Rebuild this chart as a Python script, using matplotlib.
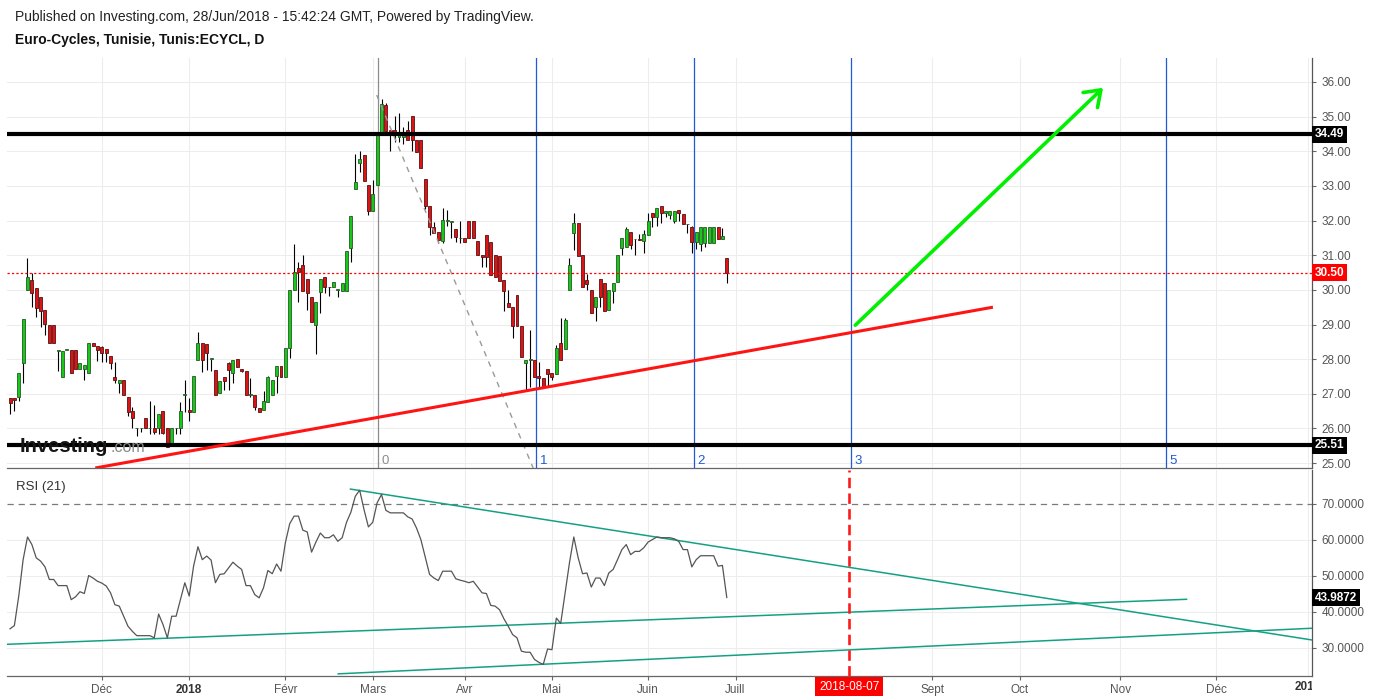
import numpy as np
import pandas as pd
import matplotlib
matplotlib.use("Agg")
import matplotlib.pyplot as plt
from matplotlib.transforms import Bbox, TransformedBbox, blended_transform_factory

plt.rcParams['font.family'] = ['Liberation Sans', 'DejaVu Sans']
plt.rcParams['lines.scale_dashes'] = False

# ------------------------------------------------------------------ data
opens = [26.87, 26.87, 26.90, 27.90, 30.01, 30.28, 30.04, 29.78, 29.42, 29.00,
         28.98, 28.24, 27.49, 28.26, 28.26, 28.26, 27.71, 27.71, 27.59, 28.46,
         28.38, 28.36, 28.28, 28.09, 27.49, 27.30, 27.40, 26.90, 26.50, 26.00,
         26.00, 26.31, 26.00, 26.00, 26.00, 26.50, 26.00, 25.55, 26.00, 26.00,
         26.98, 26.52, 26.48, 27.97, 28.47, 28.43, 28.00, 27.69, 27.01, 27.49,
         27.90, 27.59, 28.00, 27.71, 27.66, 26.98, 26.98, 26.58, 26.53, 26.77,
         26.98, 27.51, 27.80, 27.49, 28.31, 30.00, 30.62, 30.72, 30.30, 29.78,
         28.98, 29.95, 30.36, 30.09, 30.07, 30.00, 29.98, 29.98, 31.20, 32.90,
         33.67, 33.88, 33.02, 32.28, 33.02, 34.52, 35.33, 34.61, 34.61, 34.40,
         34.40, 34.61, 35.02, 34.33, 34.33, 33.19, 32.42, 31.82, 31.66, 31.42,
         32.00, 31.97, 31.75, 31.49, 31.49, 31.99, 31.99, 31.41, 31.01, 31.58,
         31.38, 31.00, 30.98, 30.28, 29.61, 29.51, 29.85, 28.96, 27.90, 27.99,
         27.99, 27.51, 27.45, 27.71, 27.59, 27.57, 28.48, 28.28, 30.00, 31.63,
         31.92, 31.01, 30.28, 30.00, 29.50, 30.30, 30.19, 29.42, 29.98, 30.24,
         31.20, 31.23, 31.68, 31.46, 31.46, 31.42, 31.58, 32.21, 32.09, 32.42,
         32.23, 32.15, 32.00, 32.30, 32.19, 31.89, 31.81, 31.39, 31.32, 31.34,
         31.36, 31.36, 31.81, 31.46, 30.91]
highs = [26.87, 26.87, 27.59, 29.15, 30.91, 30.50, 30.04, 29.78, 29.42, 29.00,
         28.98, 28.24, 28.24, 28.26, 28.26, 28.26, 27.90, 27.83, 28.47, 28.46,
         28.38, 28.38, 28.28, 28.09, 27.93, 27.40, 27.40, 26.90, 26.61, 26.00,
         26.00, 26.31, 26.80, 26.68, 26.43, 26.50, 26.00, 26.00, 26.00, 26.77,
         27.40, 26.87, 27.51, 28.77, 28.47, 28.43, 28.00, 27.69, 27.38, 27.49,
         27.93, 27.97, 28.00, 27.71, 27.66, 27.47, 26.98, 26.58, 27.09, 27.51,
         27.40, 27.80, 27.80, 28.31, 30.00, 31.32, 30.81, 31.01, 30.30, 29.78,
         29.66, 30.30, 30.36, 30.09, 30.24, 30.00, 30.19, 31.12, 32.13, 33.92,
         34.01, 33.88, 33.02, 33.17, 34.49, 35.50, 35.40, 34.61, 35.02, 35.10,
         34.69, 34.88, 35.02, 34.33, 34.33, 33.19, 32.42, 31.95, 31.66, 32.36,
         32.30, 31.97, 31.75, 31.99, 31.49, 31.99, 31.99, 31.41, 31.01, 31.58,
         31.38, 31.00, 30.98, 30.28, 30.01, 29.51, 29.85, 28.96, 27.99, 28.84,
         27.99, 27.91, 27.45, 27.71, 27.59, 28.41, 29.18, 29.18, 30.91, 32.23,
         31.92, 31.01, 30.46, 30.00, 29.78, 30.30, 30.19, 30.00, 30.19, 31.01,
         31.49, 31.82, 31.68, 31.46, 31.60, 31.73, 32.21, 32.21, 32.35, 32.42,
         32.28, 32.28, 32.28, 32.30, 32.19, 31.89, 31.84, 31.68, 31.81, 31.81,
         31.81, 31.81, 31.81, 31.78, 30.91]
lows = [26.43, 26.51, 26.80, 27.32, 30.01, 29.51, 29.23, 28.92, 28.70, 28.48,
        28.48, 27.67, 27.49, 28.26, 27.59, 27.71, 27.71, 27.40, 27.59, 28.38,
        27.95, 27.93, 27.93, 27.73, 27.32, 27.03, 26.98, 26.37, 26.02, 25.78,
        25.91, 26.00, 25.83, 25.83, 25.83, 25.83, 25.47, 25.55, 25.83, 25.83,
        26.48, 26.22, 26.48, 27.97, 27.64, 27.69, 27.66, 26.98, 27.01, 27.11,
        27.11, 27.32, 27.78, 27.64, 26.98, 26.92, 26.53, 26.48, 26.53, 26.77,
        26.98, 27.01, 27.49, 27.49, 28.04, 30.00, 29.66, 29.98, 29.42, 29.08,
        28.15, 29.34, 29.90, 29.82, 30.07, 29.78, 29.98, 29.98, 30.81, 32.90,
        33.41, 33.15, 32.16, 32.28, 33.02, 34.52, 34.59, 34.02, 34.28, 34.28,
        34.21, 34.31, 34.02, 33.99, 33.51, 32.32, 31.57, 31.63, 31.36, 31.34,
        31.84, 31.51, 31.39, 31.36, 31.39, 31.49, 31.49, 31.00, 30.67, 30.67,
        30.42, 30.38, 30.26, 29.40, 29.50, 28.62, 28.96, 28.07, 27.09, 27.20,
        27.49, 27.20, 27.19, 27.22, 27.40, 27.57, 27.99, 28.28, 30.00, 31.15,
        30.99, 30.07, 30.00, 29.32, 29.11, 29.51, 29.40, 29.42, 29.63, 30.24,
        31.01, 31.23, 31.17, 31.01, 31.44, 31.07, 31.58, 31.82, 31.84, 31.94,
        32.11, 32.04, 31.92, 32.00, 31.89, 31.63, 31.07, 31.17, 31.13, 31.25,
        31.36, 31.36, 31.46, 31.46, 30.21]
closes = [26.74, 26.81, 27.59, 29.15, 30.36, 29.90, 29.49, 29.40, 29.01, 28.48,
          28.48, 28.24, 28.24, 28.26, 27.59, 27.71, 27.90, 27.83, 28.47, 28.38,
          28.26, 28.17, 28.19, 27.90, 27.40, 27.40, 26.98, 26.48, 26.29, 26.00,
          26.00, 26.00, 26.00, 25.91, 26.43, 25.86, 25.47, 26.00, 26.00, 26.50,
          26.98, 26.48, 27.51, 28.48, 27.97, 28.17, 28.00, 26.98, 27.38, 27.38,
          27.69, 27.97, 27.78, 27.66, 26.98, 26.98, 26.61, 26.48, 26.79, 27.48,
          27.40, 27.80, 27.49, 28.31, 30.00, 30.51, 30.51, 29.98, 29.92, 29.08,
          29.66, 30.30, 30.09, 30.07, 30.24, 30.00, 30.19, 31.12, 32.13, 33.10,
          33.78, 33.15, 32.28, 32.77, 34.49, 35.36, 34.59, 34.52, 34.52, 34.52,
          34.52, 34.31, 34.31, 33.99, 33.51, 32.43, 31.81, 31.63, 31.44, 32.02,
          32.00, 31.97, 31.53, 31.49, 31.39, 31.49, 31.49, 31.00, 30.94, 30.94,
          30.42, 30.38, 30.26, 29.98, 29.50, 28.96, 28.96, 28.07, 27.99, 27.99,
          27.49, 27.45, 27.19, 27.57, 27.49, 28.33, 27.99, 29.13, 30.72, 31.92,
          30.99, 30.07, 30.17, 29.32, 29.78, 29.78, 29.40, 30.00, 30.19, 31.01,
          31.49, 31.75, 31.29, 31.46, 31.44, 31.61, 32.00, 32.09, 32.35, 32.23,
          32.28, 32.28, 32.28, 32.23, 31.89, 31.89, 31.39, 31.68, 31.81, 31.81,
          31.81, 31.81, 31.46, 31.55, 30.50]
rsi_values = [35.3, 36.2, 44.4, 54.5, 60.8, 58.7, 55.0, 54.1, 52.5, 49.0,
              49.0, 47.3, 47.3, 47.3, 43.4, 44.2, 45.6, 45.1, 50.1, 49.4,
              48.5, 48.0, 47.2, 45.3, 42.0, 41.6, 38.8, 36.0, 34.6, 33.4,
              33.4, 33.4, 33.4, 32.8, 39.4, 36.5, 32.8, 38.8, 38.8, 43.4,
              48.1, 44.4, 52.7, 58.1, 54.5, 55.5, 54.4, 48.1, 50.4, 50.6,
              52.2, 53.8, 52.7, 51.8, 47.3, 47.3, 44.8, 43.9, 46.7, 51.5,
              50.6, 53.3, 51.3, 59.2, 64.5, 66.6, 66.6, 62.7, 62.2, 56.6,
              59.4, 61.9, 60.6, 60.6, 61.4, 59.6, 60.6, 64.9, 67.7, 72.1,
              73.8, 68.4, 63.6, 64.9, 70.3, 72.6, 68.2, 67.5, 67.5, 67.5,
              67.5, 66.4, 65.8, 63.3, 60.1, 55.3, 50.4, 49.4, 48.7, 51.3,
              51.3, 51.3, 49.2, 48.8, 48.5, 48.1, 48.5, 46.9, 45.3, 45.1,
              41.8, 41.6, 40.6, 38.1, 36.0, 33.7, 32.8, 29.1, 28.8, 28.8,
              26.8, 26.0, 25.4, 29.7, 29.5, 38.3, 36.8, 45.3, 53.6, 60.8,
              55.0, 50.6, 50.8, 46.9, 49.4, 49.4, 47.3, 50.8, 51.8, 54.5,
              57.3, 58.7, 55.9, 56.8, 56.8, 57.8, 59.4, 60.1, 60.8, 60.6,
              60.6, 60.6, 60.3, 59.6, 57.3, 57.3, 52.5, 54.5, 55.6, 55.6,
              55.6, 55.6, 52.7, 52.9, 43.9872]

level_high = 34.49
level_low = 25.51
last_price = 30.50
last_rsi = 43.9872
marked_date = '2018-08-07'
price_ticks = [25, 26, 27, 28, 29, 30, 31, 32, 33, 34, 35, 36]
rsi_ticks = [30, 40, 50, 60, 70]
month_labels = {2: 'Févr', 3: 'Mars', 4: 'Avr', 5: 'Mai', 6: 'Juin', 7: 'Juill',
                8: 'Août', 9: 'Sept', 10: 'Oct', 11: 'Nov', 12: 'Déc'}
holidays = ['2017-12-25', '2018-01-01', '2018-03-20', '2018-04-09', '2018-05-01', '2018-06-15']
fib_zone_labels = ['0', '1', '2', '3', '5']

# ------------------------------------------------------------------ calendar (trading days)
hist_days = pd.bdate_range('2017-11-02', '2018-06-28').difference(pd.to_datetime(holidays))
future_days = pd.bdate_range('2018-06-29', '2019-01-31')
all_days = hist_days.append(future_days)

n = len(closes)
idx = np.arange(n)
o = np.array(opens); h = np.array(highs); l = np.array(lows); c = np.array(closes)

month_idx, month_txt, month_bold = [], [], []
for i in range(1, len(all_days)):
    if all_days[i].month != all_days[i - 1].month:
        d = all_days[i]
        month_idx.append(i)
        if d.month == 1:
            month_txt.append(str(d.year)); month_bold.append(True)
        else:
            month_txt.append(month_labels[d.month]); month_bold.append(False)

date_pos = int(np.where(all_days == pd.Timestamp(marked_date))[0][0])

# ------------------------------------------------------------------ figure
W, H = 1373, 700
fig = plt.figure(figsize=(W / 100, H / 100), dpi=100)
fig.patch.set_facecolor('white')

ax = fig.add_axes([7 / W, 1 - 468 / H, 1305 / W, 410 / H])
axr = fig.add_axes([7 / W, 1 - 676 / H, 1305 / W, 206 / H])

XMIN, XMAX = -0.69, 297.9
for a in (ax, axr):
    a.set_xlim(XMIN, XMAX)
    a.set_facecolor('white')
    for s in ('top', 'left'):
        a.spines[s].set_visible(False)
    a.spines['right'].set_color('#555555')
    a.spines['bottom'].set_color('#666666')
    a.spines['right'].set_linewidth(0.9)
    a.spines['bottom'].set_linewidth(0.9)
    a.yaxis.tick_right()

ax.set_ylim(24.86, 36.69)
axr.set_ylim(22.2, 79.4)

GRID = '#ededed'
visible_months = [(i, t, b) for i, t, b in zip(month_idx, month_txt, month_bold)
                  if all_days[i].month != 8]
for i, t, b in visible_months:
    for a in (ax, axr):
        a.axvline(i, color=GRID, lw=0.8, zorder=0)

# price axis
ax.set_yticks(price_ticks)
ax.set_yticklabels(['%.2f' % v for v in price_ticks])
ax.tick_params(axis='y', direction='out', length=3, width=0.8, color='#666666',
               labelsize=8.5, labelcolor='#555555', pad=4)
ax.tick_params(axis='x', bottom=False, labelbottom=False)
for v in price_ticks:
    ax.axhline(v, color=GRID, lw=0.8, zorder=0)

# ------------------------------------------------------------------ main pane drawings
fib_base, fib_unit = 84.3, 36.05
fib_steps = [0, 1, 2, 3, 5]
for k, lab in zip(fib_steps, fib_zone_labels):
    xpos = fib_base + k * fib_unit
    col = '#8c8c8c' if k == 0 else '#1f5bd6'
    ax.axvline(xpos, color=col, lw=0.9, zorder=1)
    ax.text(xpos + 0.8, 25.06, lab, color=col, fontsize=9.5, ha='left', va='center', zorder=7)

# candles
up = c >= o
body_lo = np.minimum(o, c)
body_h = np.maximum(np.abs(c - o), 0.02)
ax.vlines(idx, l, h, color='#000000', lw=0.8, zorder=3)
ax.bar(idx[up], body_h[up], bottom=body_lo[up], width=0.68, color='#18c818',
       edgecolor='#255a25', linewidth=0.6, zorder=4)
ax.bar(idx[~up], body_h[~up], bottom=body_lo[~up], width=0.68, color='#dd1414',
       edgecolor='#5c1010', linewidth=0.6, zorder=4)

# gray dashed helper line
ax.plot([83.9, 119.7], [35.62, 24.86], color='#9a9a9a', lw=1.0, ls=(0, (4, 4)), zorder=5)

# horizontal levels
ax.axhline(level_high, color='black', lw=3.0, zorder=6)
ax.axhline(level_low, color='black', lw=3.0, zorder=6)
ax.axhline(last_price, color='#ff0000', lw=0.9, ls=(0, (1.6, 1.6)), zorder=6)

# rising red trend line
ax.plot([19.5, 224.9], [24.86, 29.50], color='#ff1414', lw=2.2, zorder=6,
        solid_capstyle='butt')

# green arrow
ax.annotate('', xy=(250.1, 35.83), xytext=(193.4, 28.98),
            arrowprops=dict(arrowstyle='->,head_length=1.05,head_width=0.75',
                            color='#00f000', lw=2.6, shrinkA=0, shrinkB=0,
                            mutation_scale=10), zorder=7)

# right-axis value boxes
trans_main = blended_transform_factory(ax.transAxes, ax.transData)
for val, fc in ((level_high, 'black'), (last_price, '#ff0000'), (level_low, 'black')):
    ax.text(1.0 + 3 / 1305, val, '%.2f' % val, transform=trans_main, ha='left', va='center',
            color='white', fontsize=8.5, fontweight='bold', clip_on=False, zorder=10,
            bbox=dict(boxstyle='square,pad=0.22', fc=fc, ec='none'))

# ------------------------------------------------------------------ RSI pane
for v in rsi_ticks[:-1]:
    axr.axhline(v, color=GRID, lw=0.8, zorder=0)
axr.axhline(70, color='#7a7a7a', lw=0.9, ls=(0, (4.5, 3.5)), zorder=1)

axr.set_yticks(rsi_ticks)
axr.set_yticklabels(['%.4f' % v for v in rsi_ticks])
axr.tick_params(axis='y', direction='out', length=3, width=0.8, color='#666666',
                labelsize=8.5, labelcolor='#555555', pad=4)

TEAL = '#14a084'
axr.plot([77.9, 297.9], [74.1, 32.2], color=TEAL, lw=1.1, zorder=2)
axr.plot([-0.7, 269.2], [31.0, 43.5], color=TEAL, lw=1.1, zorder=2)
axr.plot([75.1, 298.6], [22.8, 35.5], color=TEAL, lw=1.1, zorder=2)

axr.plot(idx, rsi_values, color='#555555', lw=0.9, zorder=3)

axr.axvline(date_pos, color='#ff1a1a', lw=1.9, ls=(0, (7.5, 3.8)), zorder=4)

trans_rsi = blended_transform_factory(axr.transAxes, axr.transData)
axr.text(1.0 + 3 / 1305, last_rsi, '%.4f' % last_rsi, transform=trans_rsi, ha='left',
         va='center', color='white', fontsize=8.5, fontweight='bold', clip_on=False,
         zorder=10, bbox=dict(boxstyle='square,pad=0.22', fc='black', ec='none'))

# x axis labels
tick_items = [(i, t, b) for i, t, b in visible_months if i < XMAX - 2]
axr.set_xticks([i for i, t, b in tick_items])
axr.set_xticklabels([t for i, t, b in tick_items])
axr.tick_params(axis='x', direction='out', length=3, width=0.8, color='#666666',
                labelsize=8.5, labelcolor='#555555', pad=3)
for lab, (i, t, b) in zip(axr.get_xticklabels(), tick_items):
    if b:
        lab.set_fontweight('bold')
        lab.set_color('#333333')

trans_x = blended_transform_factory(axr.transData, axr.transAxes)
for i, t, b in visible_months:
    if i >= XMAX - 2:
        tx = axr.text(i, -0.053, t, transform=trans_x, ha='center', va='center',
                      fontsize=8.5, fontweight='bold', color='#333333', clip_on=True)
        tx.set_clip_box(TransformedBbox(Bbox([[0, 0], [1312 / W, 1]]), fig.transFigure))

axr.text(date_pos, -0.053, marked_date, transform=trans_x, ha='center', va='center',
         fontsize=8.5, color='white', clip_on=False, zorder=10,
         bbox=dict(boxstyle='square,pad=0.3', fc='#ff0000', ec='none'))

# ------------------------------------------------------------------ texts
fig.text(15 / W, 1 - 17 / H,
         'Published on Investing.com, 28/Jun/2018 - 15:42:24 GMT, Powered by TradingView.',
         fontsize=10, color='#222222', va='center', ha='left')
fig.text(15 / W, 1 - 40 / H, 'Euro-Cycles, Tunisie, Tunis:ECYCL, D',
         fontsize=10, fontweight='bold', color='#111111', va='center', ha='left')
fig.text(16 / W, 1 - 487 / H, 'RSI (21)', fontsize=9.5, color='#333333', va='center', ha='left')

fig.text(20 / W, 1 - 452 / H, 'Investing', fontsize=14.5, fontweight='bold',
         color='#151515', va='baseline', ha='left', zorder=20)
fig.text(110 / W, 1 - 452 / H, '.com', fontsize=11.5, color='#8a8a8a',
         va='baseline', ha='left', zorder=20)

fig.savefig('out.png', dpi=100, facecolor='white')
